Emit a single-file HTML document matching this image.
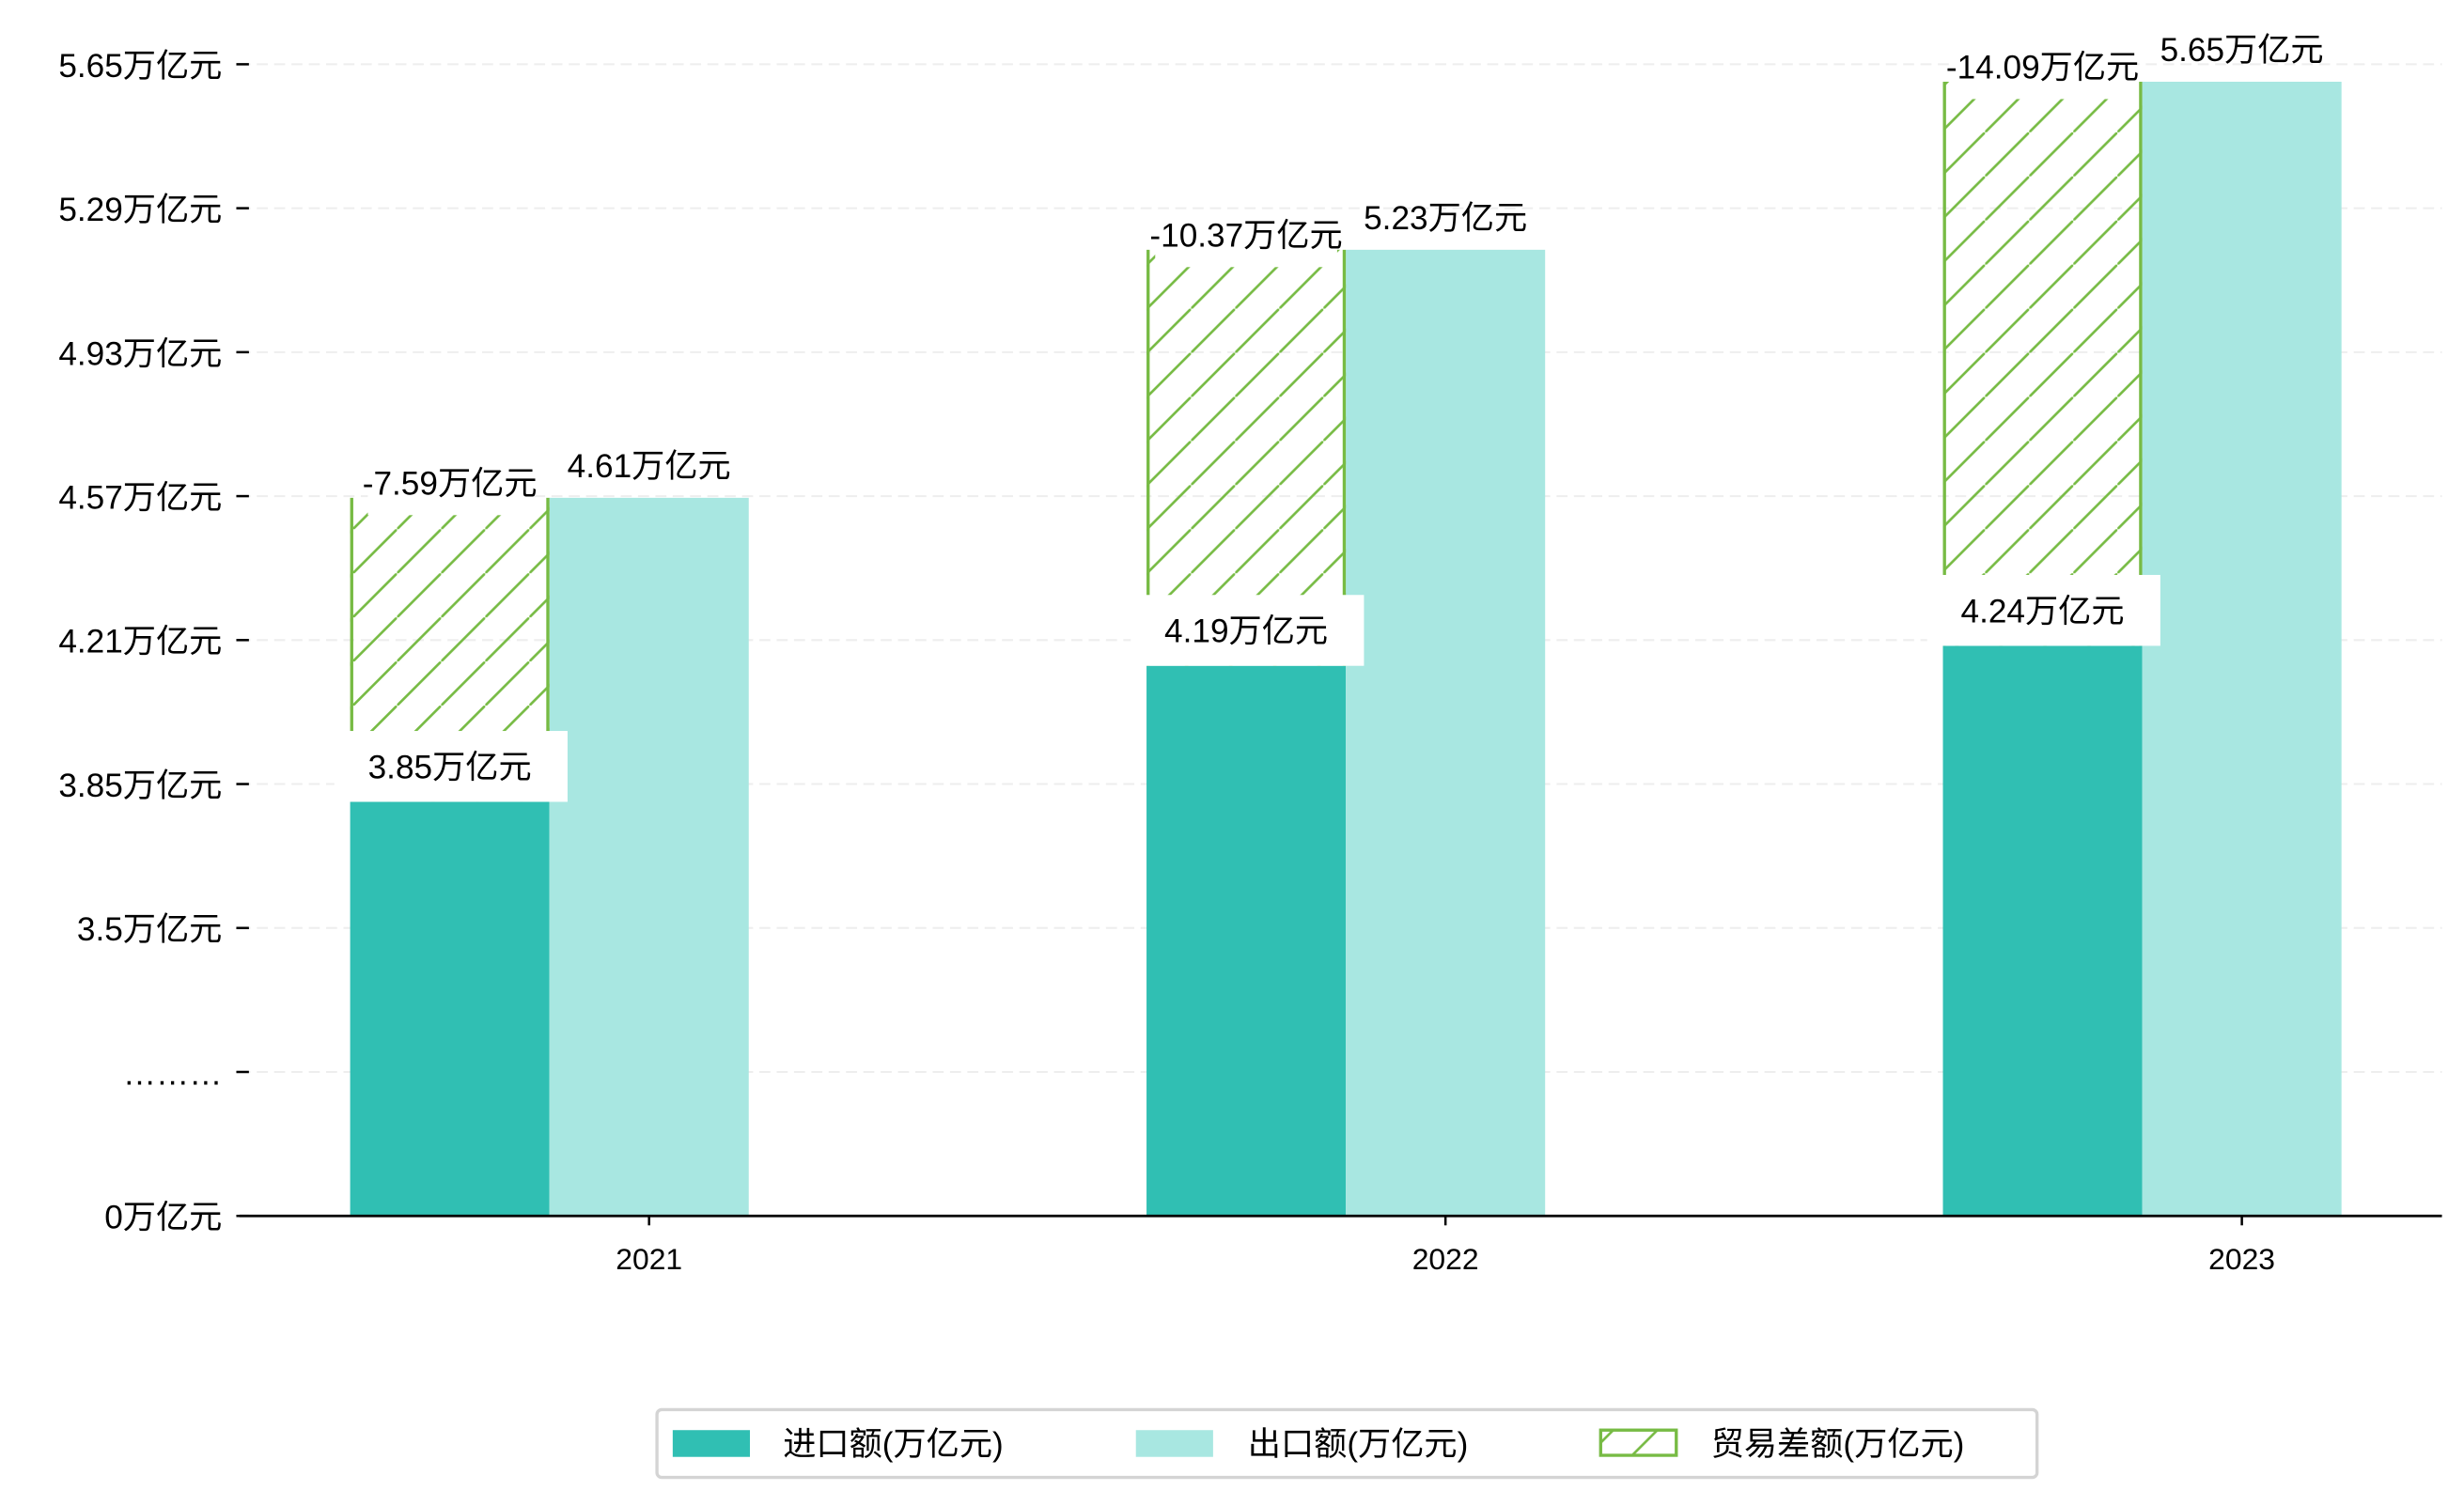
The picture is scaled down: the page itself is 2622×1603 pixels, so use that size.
<!DOCTYPE html>
<html><head><meta charset="utf-8"><style>
html,body{margin:0;padding:0;background:#fff;}
svg text{font-family:"Liberation Sans","Noto Sans CJK SC",sans-serif;}
</style></head><body>
<svg id="chart" xmlns="http://www.w3.org/2000/svg" width="2622" height="1598" viewBox="0 0 1564 953.2" preserveAspectRatio="none">
<defs>
<pattern id="hatch" patternUnits="userSpaceOnUse" width="28" height="28">
<line x1="-2" y1="30" x2="30" y2="-2" stroke="#77bb44" stroke-width="1.6"/>
</pattern>
</defs>
<g id="grid"></g>
<g id="bars"></g>
<g id="labels"></g>
<g id="axes"></g>
<g id="legend">
<rect x="417" y="895" width="876" height="43" rx="3" fill="#fff" stroke="#d4d4d4" stroke-width="2"/>
<g>
<rect x="427" y="908" width="49" height="17" fill="#30bfb3"/>
<text x="497" y="924" font-size="21" fill="#000">进口额(万亿元)</text>
</g>
<g>
<rect x="721" y="908" width="49" height="17" fill="#a8e7e1"/>
<text x="792" y="924" font-size="21" fill="#000">出口额(万亿元)</text>
</g>
<g>
<rect x="1016" y="908" width="48" height="16" fill="url(#hatch)" stroke="#77bb44" stroke-width="2"/>
<text x="1086" y="924" font-size="21" fill="#000">贸易差额(万亿元)</text>
</g>
</g>
</svg>
<script>
const categories = ["2021","2022","2023"];
const importVals = [3.85, 4.19, 4.24];
const exportVals = [4.61, 5.23, 5.65];
const deficitVals = [-7.59, -10.37, -14.09];
const tickLabels = ["0万亿元","………","3.5万亿元","3.85万亿元","4.21万亿元","4.57万亿元","4.93万亿元","5.29万亿元","5.65万亿元"];

const NS="http://www.w3.org/2000/svg";
const X0=152, X1=1550, BASE=772, TICKSTEP=91.4;
const groupW=(X1-X0)/categories.length;
const barW=126.5;
function xc(i){return 412+i*505.5;}
function y(v){return 598-(v-3.5)*254;}
function tickY(i){return BASE-i*TICKSTEP;}
function mk(tag,attrs,parent){const e=document.createElementNS(NS,tag);for(const k in attrs)e.setAttribute(k,attrs[k]);parent.appendChild(e);return e;}

const grid=document.getElementById('grid'),bars=document.getElementById('bars'),labels=document.getElementById('labels'),axes=document.getElementById('axes');

tickLabels.forEach((t,i)=>{
  const ty=tickY(i);
  if(i>0){const g=mk('line',{x1:X0,x2:X1,y1:ty,y2:ty,stroke:'#eeeeee','stroke-width':1.2,'stroke-dasharray':'7,4'},grid);
  
  }
  const tk=mk('line',{x1:150,x2:158,y1:ty,y2:ty,stroke:'#000','stroke-width':1.5},axes);
  
  
  const tx=mk('text',{x:141,y:ty+8,'text-anchor':'end','font-size':21,fill:'#000'},axes);
  tx.textContent=t;
  
  
});
const ax=mk('line',{x1:X0,x2:X1,y1:BASE,y2:BASE,stroke:'#000','stroke-width':1.6},axes);



categories.forEach((c,i)=>{
  const cx=xc(i), xi=cx-barW*1.5, xe=cx-barW*0.5;
  const yi=y(importVals[i]), ye=y(exportVals[i]);
  const bi=mk('rect',{x:xi,y:yi,width:barW,height:BASE-yi,fill:'#30bfb3'},bars);
  
  
  const be=mk('rect',{x:xe,y:ye,width:barW,height:BASE-ye,fill:'#a8e7e1'},bars);
  
  
  const bd=mk('rect',{x:xi,y:ye,width:barW,height:yi-ye,fill:'url(#hatch)'},bars);
  
  
  const l1=mk('line',{x1:xi+1,x2:xi+1,y1:ye,y2:yi,stroke:'#77bb44','stroke-width':2},bars);
  
  
  const l2=mk('line',{x1:xi+barW-1,x2:xi+barW-1,y1:ye,y2:yi,stroke:'#77bb44','stroke-width':2},bars);
  
  
  const tk=mk('line',{x1:cx,x2:cx,y1:BASE,y2:BASE+6,stroke:'#000','stroke-width':1.5},axes);
  
  
  const xl=mk('text',{x:cx,y:BASE+34,'text-anchor':'middle','font-size':19,fill:'#000'},axes);
  xl.textContent=c;
  
  
  // export label
  const el=mk('text',{x:xe+barW/2,y:ye-13,'text-anchor':'middle','font-size':21,fill:'#000'},labels);
  el.textContent=exportVals[i].toFixed(2)+'万亿元';
  
  
  // deficit label with white box
  const dtxt=deficitVals[i].toFixed(2)+'万亿元';
  const dw=dtxt.length*11.5+12;
  const db=mk('rect',{x:xi+barW/2-dw/2,y:ye-23,width:dw,height:34,fill:'#fff'},labels);
  
  
  const dl=mk('text',{x:xi+barW/2,y:ye-2,'text-anchor':'middle','font-size':21,fill:'#000'},labels);
  dl.textContent=dtxt;
  
  
  // import label with white box
  const itxt=importVals[i].toFixed(2)+'万亿元';
  const ib=mk('rect',{x:xi-10,y:yi-45,width:148,height:45,fill:'#fff'},labels);
  
  
  const il=mk('text',{x:xi+barW/2,y:yi-15,'text-anchor':'middle','font-size':21,fill:'#000'},labels);
  il.textContent=itxt;
  
  
});
</script>
</body></html>
